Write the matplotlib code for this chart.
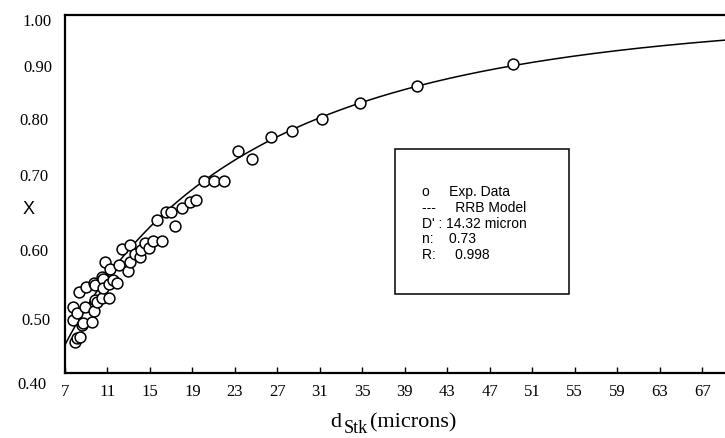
import numpy as np
import matplotlib
matplotlib.use('Agg')
import matplotlib.pyplot as plt
from matplotlib.patches import Rectangle

# experimental data: d_Stk (microns) and X
d_exp = [7.8, 7.8, 7.9, 8.1, 8.1, 8.3, 8.4, 8.6, 8.7, 8.9, 9.0, 9.5, 9.7, 9.7,
         9.8, 9.8, 10.0, 10.5, 10.5, 10.6, 10.6, 10.8, 11.1, 11.1, 11.2, 11.5,
         11.9, 12.1, 12.4, 12.9, 13.1, 13.1, 13.6, 14.1, 14.2, 14.5, 14.9, 15.3,
         15.7, 16.1, 16.5, 17.0, 17.4, 18.0, 18.8, 19.3, 20.1, 21.0, 22.0, 23.3,
         24.6, 26.4, 28.4, 31.2, 34.8, 40.1, 49.2]
x_exp = [0.511, 0.489, 0.452, 0.458, 0.500, 0.536, 0.461, 0.480, 0.483, 0.511,
         0.544, 0.486, 0.550, 0.503, 0.522, 0.547, 0.519, 0.561, 0.525, 0.558,
         0.542, 0.586, 0.549, 0.525, 0.574, 0.556, 0.550, 0.581, 0.607, 0.571,
         0.614, 0.586, 0.599, 0.594, 0.606, 0.617, 0.609, 0.621, 0.656, 0.621,
         0.670, 0.670, 0.646, 0.676, 0.686, 0.690, 0.722, 0.722, 0.722, 0.772,
         0.759, 0.795, 0.806, 0.825, 0.852, 0.881, 0.917]

# RRB model parameters
D_prime = 14.32
n_rrb = 0.73

x_ticks = list(range(7, 68, 4))
y_labels = ['1.00', '0.90', '0.80', '0.70', '0.60', '0.50', '0.40']
legend_lines = ["o     Exp. Data", "---     RRB Model", "D' : 14.32 micron",
                "n:    0.73", "R:     0.998"]

W, H = 725, 438
plt.rcParams['font.family'] = ['Liberation Serif', 'DejaVu Serif']

fig = plt.figure(figsize=(W / 100, H / 100), dpi=100)
ax = fig.add_axes([65 / W, 1 - 373 / H, 1 - 65 / W, (373 - 14.7) / H])

d = np.linspace(7, 70, 400)
ax.plot(d, 1 - np.exp(-(d / D_prime) ** n_rrb), color='black', lw=1.1, zorder=2)
ax.plot(d_exp, x_exp, 'o', ms=7.8, mfc='white', mec='black', mew=1.1, zorder=3)

ax.set_xlim(7, 7 + (W - 65) / 10.62)
ax.set_ylim(0.40, 1.00)
ax.set_xticks(x_ticks)
ax.tick_params(axis='x', direction='in', length=4, width=1, labelsize=12, pad=8)
ax.set_yticks([])
ax.spines['right'].set_visible(False)
for s in ['left', 'bottom', 'top']:
    ax.spines[s].set_linewidth(1.6)


def px(x, y):
    return x / W, 1 - y / H


# y labels placed as in the original (not aligned with a grid)
y_pos = [(51.4, 21.9), (52, 67.8), (48.6, 120.9), (48, 177.4),
         (48, 252.1), (50.7, 321.3), (46, 384.7)]
for lab, (xx, yy) in zip(y_labels, y_pos):
    fig.text(*px(xx, yy), lab, ha='right', va='center', fontsize=12)
fig.text(*px(29, 209), 'X', ha='center', va='center', fontsize=13,
         family='Liberation Sans')

# x label
fig.text(*px(330, 427), 'd', ha='left', va='baseline', fontsize=16)
fig.text(*px(344, 433), 'Stk', ha='left', va='baseline', fontsize=13)
fig.text(*px(370, 427), '(microns)', ha='left', va='baseline', fontsize=16)

# legend box
x0, y0 = px(395, 294)
fig.add_artist(Rectangle((x0, y0), (569 - 395) / W, (294 - 149) / H,
                         transform=fig.transFigure, fill=False,
                         edgecolor='black', lw=1.1))
for i, line in enumerate(legend_lines):
    fig.text(*px(422, 192 + 15.75 * i), line, ha='left', va='center',
             fontsize=10, family='Liberation Sans')

fig.savefig('out.png', dpi=100)
